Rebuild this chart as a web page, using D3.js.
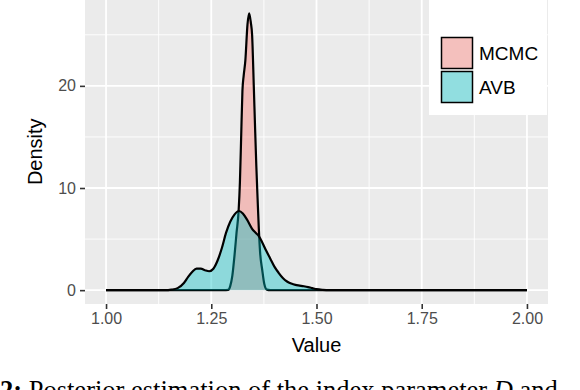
<!DOCTYPE html>
<html>
<head>
<meta charset="utf-8">
<script src="https://cdn.jsdelivr.net/npm/d3@7"></script>
<style>
  body { margin: 0; background: #fff; }
  svg { display: block; }
</style>
</head>
<body>
<div id="chart"></div>
<script>
// posterior densities: [value, density]
const mcmcDensity = [
  [1.00, 0], [1.28, 0], [1.29, 0.02], [1.295, 0.4], [1.30, 1.4], [1.305, 3.3],
  [1.31, 5.6], [1.315, 7.8], [1.318, 10.5], [1.321, 15], [1.324, 19.5],
  [1.327, 21], [1.331, 22.5], [1.336, 26], [1.340, 27.1], [1.344, 26.2],
  [1.347, 25], [1.351, 20], [1.354, 16], [1.357, 12.2], [1.360, 9],
  [1.363, 6], [1.366, 3.7], [1.371, 2.0], [1.376, 0.6], [1.382, 0.05],
  [1.39, 0], [2.00, 0]
];
const avbDensity = [
  [1.00, 0], [1.14, 0], [1.155, 0.05], [1.17, 0.2], [1.185, 0.7], [1.195, 1.3],
  [1.205, 1.8], [1.215, 2.1], [1.225, 2.1], [1.235, 1.95], [1.245, 1.85],
  [1.255, 2.1], [1.265, 2.9], [1.275, 4.1], [1.285, 5.6], [1.295, 6.7],
  [1.305, 7.4], [1.316, 7.75], [1.325, 7.5], [1.335, 6.9], [1.347, 6.0],
  [1.356, 5.6], [1.363, 5.3], [1.372, 4.6], [1.38, 3.9], [1.39, 3.1],
  [1.40, 2.3], [1.41, 1.7], [1.42, 1.2], [1.43, 0.85], [1.44, 0.65],
  [1.45, 0.52], [1.46, 0.45], [1.47, 0.38], [1.48, 0.3], [1.49, 0.2],
  [1.50, 0.1], [1.515, 0.03], [1.53, 0], [2.00, 0]
];
const seriesNames = ["MCMC", "AVB"];
const seriesColors = ["#F8766D", "#00BFC4"];
const legendKeyColors = ["#F4C0BD", "#91DEE0"];
const xTicks = [1.00, 1.25, 1.50, 1.75, 2.00];
const xMinor = [1.125, 1.375, 1.625, 1.875];
const yTicks = [0, 10, 20];
const yMinor = [5, 15, 25];

const width = 580, height = 390;
const panel = {left: 85, right: 548, top: -0.5, bottom: 304};

const svg = d3.select("#chart").append("svg")
  .attr("width", width).attr("height", height)
  .style("font-family", "'Liberation Sans', Arial, sans-serif");

const x = d3.scaleLinear().domain([0.95, 2.05]).range([panel.left, panel.right]);
const y = d3.scaleLinear().domain([-1.355, 28.455]).range([panel.bottom, panel.top]);

// panel background
svg.append("rect")
  .attr("x", panel.left).attr("y", panel.top)
  .attr("width", panel.right - panel.left).attr("height", panel.bottom - panel.top)
  .attr("fill", "#EBEBEB");

// grid
const grid = svg.append("g").attr("stroke", "#fff");
grid.selectAll(".vminor").data(xMinor).enter().append("line")
  .attr("x1", d => x(d)).attr("x2", d => x(d))
  .attr("y1", panel.top).attr("y2", panel.bottom).attr("stroke-width", 0.9);
grid.selectAll(".hminor").data(yMinor).enter().append("line")
  .attr("y1", d => y(d)).attr("y2", d => y(d))
  .attr("x1", panel.left).attr("x2", panel.right).attr("stroke-width", 0.9);
grid.selectAll(".vmajor").data(xTicks).enter().append("line")
  .attr("x1", d => x(d)).attr("x2", d => x(d))
  .attr("y1", panel.top).attr("y2", panel.bottom).attr("stroke-width", 1.8);
grid.selectAll(".hmajor").data(yTicks).enter().append("line")
  .attr("y1", d => y(d)).attr("y2", d => y(d))
  .attr("x1", panel.left).attr("x2", panel.right).attr("stroke-width", 1.8);

// densities
const area = d3.area().x(d => x(d[0])).y0(y(0)).y1(d => y(d[1])).curve(d3.curveMonotoneX);
const line = d3.line().x(d => x(d[0])).y(d => y(d[1])).curve(d3.curveMonotoneX);

[mcmcDensity, avbDensity].forEach(function(data, i) {
  svg.append("path").datum(data)
    .attr("d", area)
    .attr("fill", seriesColors[i]).attr("fill-opacity", 0.4);
  svg.append("path").datum(data)
    .attr("d", line)
    .attr("fill", "none").attr("stroke", "#000").attr("stroke-width", 2.2)
    .attr("stroke-linejoin", "round");
});

// axes
const xAxis = svg.append("g")
  .attr("transform", "translate(0," + panel.bottom + ")")
  .call(d3.axisBottom(x).tickValues(xTicks).tickFormat(d3.format(".2f")).tickSize(5).tickPadding(4));
const yAxis = svg.append("g")
  .attr("transform", "translate(" + panel.left + ",0)")
  .call(d3.axisLeft(y).tickValues(yTicks).tickSize(5).tickPadding(4));

[xAxis, yAxis].forEach(function(a) {
  a.select(".domain").remove();
  a.selectAll(".tick line").attr("stroke", "#333").attr("stroke-width", 1.6);
  a.selectAll(".tick text")
    .attr("fill", "#4D4D4D")
    .style("font-size", "16px")
    .style("font-family", "'Liberation Sans', Arial, sans-serif");
});

svg.append("text")
  .attr("x", (panel.left + panel.right) / 2).attr("y", 352)
  .attr("text-anchor", "middle").style("font-size", "20px")
  .text("Value");
svg.append("text")
  .attr("transform", "translate(42," + ((panel.top + panel.bottom) / 2) + ") rotate(-90)")
  .attr("text-anchor", "middle").style("font-size", "20px")
  .text("Density");

// legend
const legend = svg.append("g");
legend.append("rect")
  .attr("x", 429).attr("y", -10).attr("width", 118).attr("height", 125)
  .attr("fill", "#fff");
seriesNames.forEach(function(name, i) {
  legend.append("rect")
    .attr("x", 441.5).attr("y", 37.5 + i * 34).attr("width", 31).attr("height", 31)
    .attr("fill", legendKeyColors[i]).attr("stroke", "#000").attr("stroke-width", 1.5);
  legend.append("text")
    .attr("x", 479).attr("y", 60 + i * 34)
    .style("font-size", "19px")
    .text(name);
});

// caption (cut off at the bottom of the picture, as in the source)
const caption = svg.append("text")
  .attr("x", 0).attr("y", 399)
  .style("font-family", "'Liberation Serif', 'Times New Roman', serif")
  .style("font-size", "26.5px");
caption.append("tspan").attr("font-weight", "bold").text("2:");
caption.append("tspan").text(" Posterior estimation of the index parameter ");
caption.append("tspan").attr("font-style", "italic").text("D");
caption.append("tspan").text(" and");
</script>
</body>
</html>
